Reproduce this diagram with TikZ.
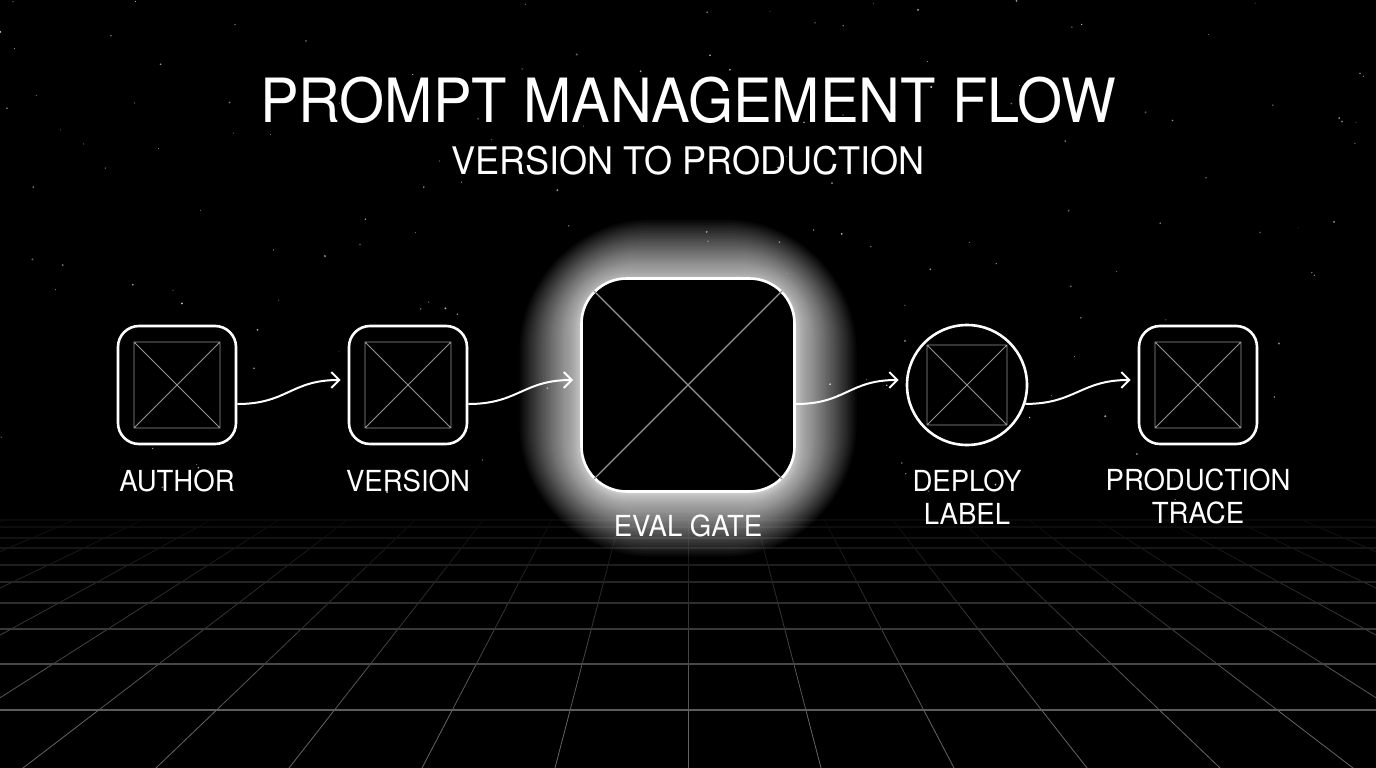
\documentclass[tikz,border=0pt]{standalone}
\usepackage{fontspec}
\setmainfont[FakeStretch=0.95]{TeX Gyre Heros}
\usetikzlibrary{calc,arrows.meta}
\newcommand\fsz[2]{\fontsize{#1}{#2}\selectfont}
\newcommand\crossbox[2]{%
  \draw[xline] ($(#1.center)+(-#2,-#2)$) rectangle ($(#1.center)+(#2,#2)$)
    ($(#1.center)+(-#2,-#2)$) -- ($(#1.center)+(#2,#2)$)
    ($(#1.center)+(-#2,#2)$) -- ($(#1.center)+(#2,-#2)$);}
\begin{document}
\begin{tikzpicture}[x=1pt,y=-1pt,
  box/.style={draw=white, line width=2.6pt, rounded corners=21pt, minimum width=118pt,
    minimum height=118pt, inner sep=0pt, fill=black},
  bigbox/.style={draw=white, line width=2.6pt, rounded corners=45pt, minimum width=213pt,
    minimum height=213pt, inner sep=0pt, fill=black},
  roundbox/.style={draw=white, line width=2.6pt, circle, minimum size=120pt, inner sep=0pt, fill=black},
  xline/.style={draw=white!58!black, line width=0.9pt},
  conn/.style={draw=white, line width=2pt, -{Straight Barb[length=8pt,width=16pt]}},
  lbl/.style={text=white, font=\fsz{29}{33}, align=center, inner sep=0pt},
]
\useasboundingbox (0,0) rectangle (1376,768);
\fill[black] (0,0) rectangle (1376,768);

% stars
\pgfmathsetseed{11}
\foreach \k in {1,...,170}{
  \pgfmathsetmacro\sx{rnd*1376}
  \pgfmathsetmacro\sy{rnd*500}
  \pgfmathsetmacro\sr{0.45+rnd*0.7}
  \pgfmathsetmacro\sg{35+rnd*45}
  \fill[white!\sg!black] (\sx,\sy) circle (\sr pt);
}

% floor grid
\begin{scope}
\clip (0,518) rectangle (1376,768);
\foreach \ya/\yb in {520/527,527/538,538/548,548/565,565/582,582/603,603/629,629/664,664/710,710/770}{
  \pgfmathsetmacro\gg{min(40,4+36*((\ya+\yb)/2-520)/200)}
  \pgfmathsetmacro\sa{0.2613*(\ya-259)}
  \pgfmathsetmacro\sb{0.2613*(\yb-259)}
  \foreach \n in {-16,...,16}{
    \draw[white!\gg!black, line width=0.8pt]
      ({688+\n*\sa},\ya) -- ({688+\n*\sb},\yb);
  }
}
\foreach \y in {520,527,538,548,565,582,603,629,664,710}{
  \pgfmathsetmacro\gg{min(36,4+32*(\y-520)/190)}
  \draw[white!\gg!black, line width=1.4pt] (0,\y) -- (1376,\y);
}
\end{scope}

% glow around the eval gate
\coordinate (evalc) at (688,388);
\foreach \i in {1,...,70}{
  \pgfmathsetmacro\ext{62*((71-\i)/70)^2}
  \pgfmathsetmacro\rr{45+1.4*\ext}
  \fill[white, opacity=0.026, rounded corners=\rr pt]
    ($(evalc)+(-106.5-\ext,-106.5-\ext)$) rectangle ($(evalc)+(106.5+\ext,106.5+\ext)$);
}

% title
\node[text=white, font=\fsz{61}{70}, anchor=base, inner sep=0pt] (title) at (688,122) {PROMPT MANAGEMENT FLOW};
\node[text=white, font=\fsz{38}{44}, anchor=base, inner sep=0pt] (subtitle) at (688,174) {VERSION TO PRODUCTION};

% nodes
\node[box] (author) at (177,385) {};
\node[box] (version) at (408,385) {};
\node[bigbox] (eval) at (688,385) {};
\node[roundbox] (deploy) at (967,385) {};
\node[box] (prod) at (1198,385) {};

\crossbox{author}{43}
\crossbox{version}{43}
\crossbox{deploy}{40}
\crossbox{prod}{43}
\draw[xline, line width=1.1pt] ($(eval.center)+(-94,-94)$) -- ($(eval.center)+(94,94)$)
  ($(eval.center)+(-94,94)$) -- ($(eval.center)+(94,-94)$);

% labels
\node[lbl, anchor=base] (lauthor) at ($(author.south)+(0,46)$) {AUTHOR};
\node[lbl, anchor=base] (lversion) at ($(version.south)+(0,46)$) {VERSION};
\node[lbl, anchor=base] (leval) at ($(eval.south)+(0,44)$) {EVAL GATE};
\node[lbl, anchor=north] (ldeploy) at ($(deploy.south)+(0,23)$) {DEPLOY\\LABEL};
\node[lbl, anchor=north] (lprod) at ($(prod.south)+(0,23)$) {PRODUCTION\\TRACE};

% connectors
\draw[conn] ($(author.east)+(0,19)$) .. controls +(50,0) and +(-50,0) .. ($(version.west)+(-7,-5)$);
\draw[conn] ($(version.east)+(0,19)$) .. controls +(50,0) and +(-50,0) .. ($(eval.west)+(-7,-5)$);
\draw[conn] ($(eval.east)+(0,19)$) .. controls +(50,0) and +(-50,0) .. ($(deploy.west)+(-7,-5)$);
\draw[conn] (deploy.-18) .. controls +(50,0) and +(-50,0) .. ($(prod.west)+(-7,-5)$);
\end{tikzpicture}
\end{document}
